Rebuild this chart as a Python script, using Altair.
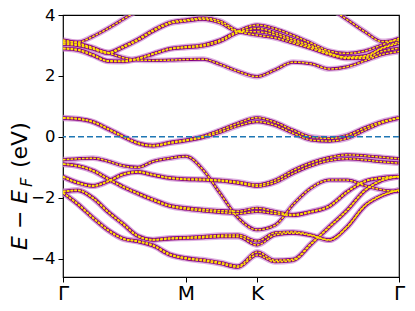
import altair as alt
import pandas as pd

# k-path positions (Γ - M - K - Γ) and tick labels
K_POINTS = [0.000, 0.070, 0.141, 0.211, 0.282, 0.352, 0.422, 0.502, 0.577, 0.657,
            0.737, 0.821, 0.911, 0.995, 1.080, 1.164, 1.249, 1.333, 1.417, 1.497, 1.577]
TICK_POS = [0.0, 0.577, 0.911, 1.577]
TICK_LABELS = ["Γ", "M", "K", "Γ"]
Y_TICKS = [-4, -2, 0, 2, 4]
N = None

U1 = [3.12, 3.11, 3.30, 3.56, 3.86, 4.16, 4.45, N, N, N, N, N, N, N, N, N, N, N, N, N, N]
U2 = [3.18, 3.08, 2.93, 2.77, 2.97, 3.21, 3.50, 3.76, 3.84, 3.90, 3.80, 3.47, 3.34, 3.25, 3.08, 2.90, 2.70, 2.57, 2.58, 2.80, 2.91]
U2b = [3.04, 3.00, 2.88, 2.74, 2.93, 3.17, 3.46, 3.72, 3.80, 3.86, 3.74, 3.46, 3.45, 3.35, 3.14, 2.95, 2.73, 2.62, 2.66, 2.92, 3.12]
U5 = [2.91, 2.87, 2.70, 2.50, 2.49, 2.58, 2.73, 2.90, 2.96, 3.02, 3.18, 3.47, 3.67, 3.55, 3.33, 3.08, 2.82, 2.74, 2.82, 3.02, 3.24]
U5b = [2.89, 2.84, 2.67, 2.48, 2.47, 2.56, 2.71, 2.88, 2.93, 2.98, 3.13, 3.42, 3.56, 3.42, 3.20, 3.00, 2.75, 2.60, 2.63, 2.90, 3.07]
U4 = [3.09, 3.03, 2.90, 2.76, 2.60, 2.52, 2.51, 2.52, 2.54, 2.55, 2.38, 2.15, 1.98, 2.20, 2.45, 2.40, 2.23, 2.30, 2.50, 2.70, 2.80]
U6 = [N, N, N, N, N, N, N, N, N, N, N, N, N, N, N, 4.60, 4.25, 3.85, 3.45, 3.13, 3.18]
F1 = [0.63, 0.60, 0.50, 0.27, 0.02, -0.20, -0.28, -0.18, -0.10, 0.02, 0.22, 0.45, 0.63, 0.48, 0.22, 0.00, -0.05, 0.05, 0.30, 0.50, 0.63]
F2 = [0.61, 0.58, 0.48, 0.25, 0.00, -0.22, -0.30, -0.21, -0.13, -0.02, 0.15, 0.36, 0.50, 0.38, 0.12, -0.10, -0.14, -0.05, 0.22, 0.46, 0.61]
P = [-0.75, -0.72, -0.70, -0.80, -0.95, -1.00, -0.81, -0.70, -0.64, -1.08, -1.85, -2.65, -3.05, -2.90, -2.22, -1.68, -1.42, -1.42, -1.60, -1.74, -1.79]
Q = [-0.89, -0.95, -1.10, -1.37, -1.63, -1.85, -2.05, -2.25, -2.33, -2.38, -2.42, -2.44, -2.34, -2.45, -2.55, -2.45, -2.27, -1.80, -1.45, -1.34, -1.30]
Qb = [-0.90, -0.96, -1.12, -1.39, -1.65, -1.87, -2.08, -2.28, -2.37, -2.43, -2.48, -2.52, -2.45, -2.52, -2.58, -2.47, -2.29, -1.82, -1.47, -1.35, -1.31]
R = [-1.30, -1.50, -1.60, -1.45, -1.22, -1.14, -1.24, -1.34, -1.38, -1.39, -1.42, -1.48, -1.57, -1.42, -1.10, -0.85, -0.68, -0.59, -0.62, -0.67, -0.72]
Rb = [-1.32, -1.52, -1.62, -1.47, -1.24, -1.16, -1.26, -1.36, -1.40, -1.42, -1.45, -1.52, -1.62, -1.50, -1.20, -0.95, -0.78, -0.72, -0.76, -0.82, -0.86]
S = [-1.79, -1.75, -2.00, -2.45, -2.85, -3.25, -3.37, -3.32, -3.30, -3.27, -3.23, -3.22, -3.42, -3.15, -3.12, -3.22, -3.38, -2.95, -2.25, -1.92, -1.74]
Sb = [-1.80, -1.76, -2.02, -2.47, -2.87, -3.27, -3.39, -3.35, -3.33, -3.31, -3.28, -3.28, -3.55, -3.22, -3.16, -3.24, -3.39, -2.97, -2.27, -1.93, -1.75]
T = [-1.83, -2.20, -2.65, -3.05, -3.33, -3.42, -3.55, -3.85, -3.97, -4.03, -4.12, -4.24, -3.78, -4.05, -4.02, -3.50, -2.95, -2.40, -1.75, -1.42, -1.30]
Tb = [-1.84, -2.22, -2.67, -3.07, -3.35, -3.44, -3.58, -3.88, -4.00, -4.07, -4.16, -4.28, -3.88, -4.10, -4.06, -3.53, -2.97, -2.42, -1.77, -1.43, -1.31]

BANDS = {"U1": U1, "U2": U2, "U2b": U2b, "U5": U5, "U5b": U5b, "U4": U4, "U6": U6,
         "F1": F1, "F2": F2, "P": P, "Q": Q, "Qb": Qb, "R": R, "Rb": Rb,
         "S": S, "Sb": Sb, "T": T, "Tb": Tb}

rows = []
for name, vals in BANDS.items():
    for k, e in zip(K_POINTS, vals):
        if e is not None:
            rows.append({"k": k, "E": e, "band": name})
df = pd.DataFrame(rows)

label_expr = " : ".join(
    f"abs(datum.value - {p}) < 0.01 ? '{l}'" for p, l in zip(TICK_POS, TICK_LABELS)
) + " : ''"

x_enc = alt.X("k:Q", scale=alt.Scale(domain=[0, 1.577], nice=False, zero=False),
              axis=alt.Axis(values=TICK_POS, labelExpr=label_expr, title=None, grid=False,
                            domain=False, labelFontSize=20, labelFlush=False, labelOverlap=False,
                            tickSize=5, tickColor="black", labelColor="black", labelPadding=1))
y_enc = alt.Y("E:Q", scale=alt.Scale(domain=[-4.6, 4], nice=False, zero=False),
              axis=alt.Axis(values=Y_TICKS, title=None, grid=False, domain=False,
                            labelFontSize=16.5, tickSize=5, tickColor="black", labelColor="black",
                            labelPadding=3, labelExpr="replace(datum.label, '-', '−')"))

base = alt.Chart(df).encode(x=x_enc, y=y_enc, detail="band:N")
halo = base.mark_line(color="#c97ec9", strokeWidth=5.8, opacity=0.6, interpolate="monotone", clip=True)
core = base.mark_line(color="#80007f", strokeWidth=3.0, interpolate="monotone", clip=True)
dash = base.mark_line(color="#ffe100", strokeWidth=1.5, strokeDash=[2.6, 1.2], interpolate="monotone", clip=True)

fermi = alt.Chart(pd.DataFrame({"E": [0]})).mark_rule(
    color="#1f77b4", strokeDash=[6, 3], strokeWidth=1.5
).encode(y=alt.Y("E:Q"))

title_a = alt.Chart(pd.DataFrame({"t": ["E − E"]})).mark_text(
    angle=270, align="left", baseline="alphabetic", fontSize=22, fontStyle="italic", color="black"
).encode(text="t:N", x=alt.value(-36), y=alt.value(235))
title_b = alt.Chart(pd.DataFrame({"t": ["F"]})).mark_text(
    angle=270, align="left", baseline="alphabetic", fontSize=16, fontStyle="italic", color="black"
).encode(text="t:N", x=alt.value(-31), y=alt.value(172))
title_c = alt.Chart(pd.DataFrame({"t": ["(eV)"]})).mark_text(
    angle=270, align="left", baseline="alphabetic", fontSize=22, color="black"
).encode(text="t:N", x=alt.value(-36), y=alt.value(153))

chart = alt.layer(halo, core, dash, fermi, title_a, title_b, title_c).properties(
    width=336, height=262,
    autosize=alt.AutoSizeParams(type="none"),
    padding={"left": 55, "top": 7, "right": 8, "bottom": 26},
).configure(font="DejaVu Sans").configure_view(stroke="black", strokeWidth=1.2)

chart.save("out.html", embed_options={"renderer": "svg", "actions": False})
